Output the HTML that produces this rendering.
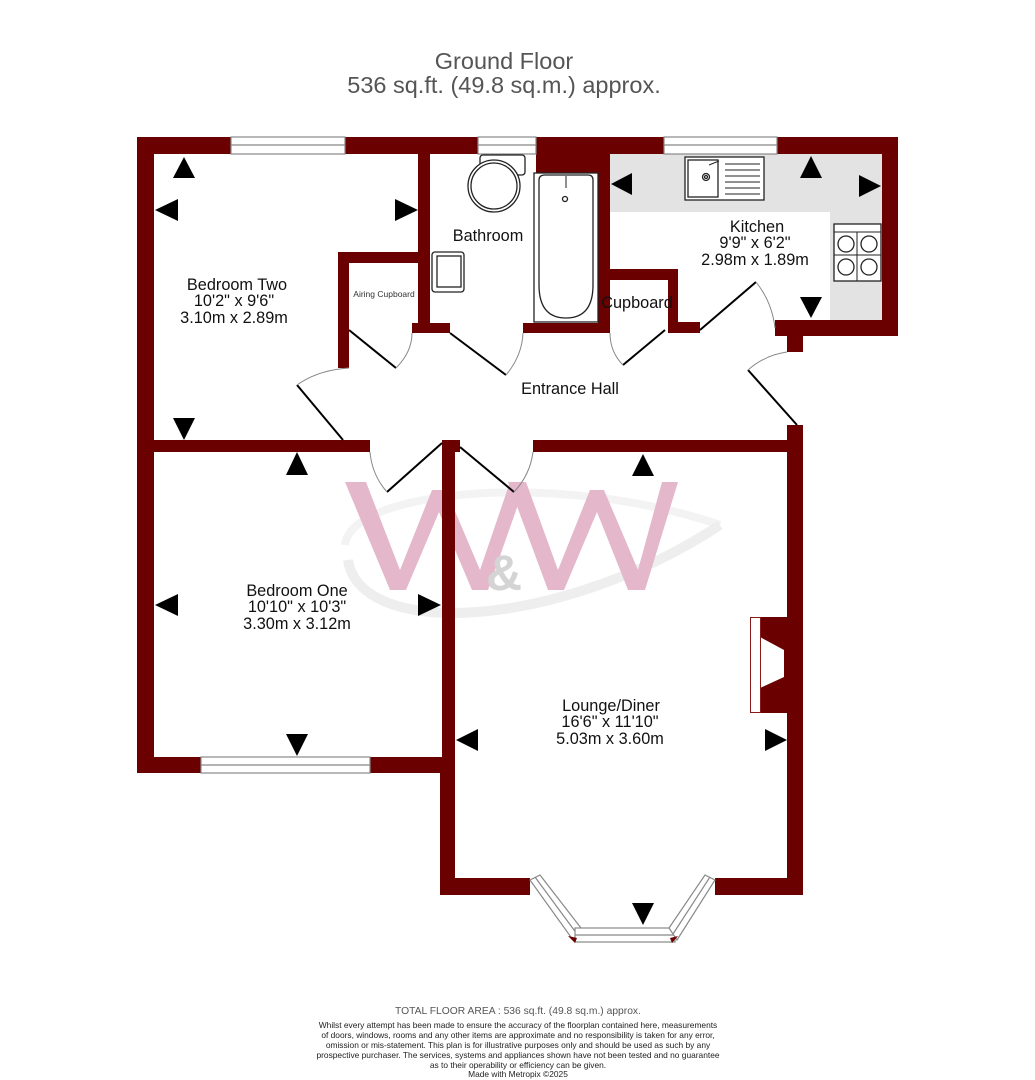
<!DOCTYPE html>
<html><head><meta charset="utf-8"><style>
html,body{margin:0;padding:0;background:#fff;}
svg{display:block;font-family:"Liberation Sans",Arial,sans-serif;}
</style></head><body>
<svg width="1035" height="1080" viewBox="0 0 1035 1080" xmlns="http://www.w3.org/2000/svg">
<rect width="1035" height="1080" fill="#fff"/>
<text x="504" y="69" font-size="23.5" fill="#555" text-anchor="middle">Ground Floor</text>
<text x="504" y="93" font-size="23.5" fill="#555" text-anchor="middle">536 sq.ft. (49.8 sq.m.) approx.</text>

<!-- kitchen counters -->
<rect x="610" y="154" width="272" height="58" fill="#e3e3e3"/>
<rect x="830" y="154" width="52" height="166" fill="#e3e3e3"/>

<!-- watermark -->
<path d="M345,545 C350,490 560,470 720,525" fill="none" stroke="#f3f3f3" stroke-width="8"/>
<path d="M348,560 C360,640 560,630 720,525" fill="none" stroke="#eeeeee" stroke-width="10"/>
<g fill="#e4b7ca">
<polygon points="345,482 366,482 400,570 432,490 446,490 480,570 510,482 526,482 488,590 472,590 439,512 406,590 390,590"/>
<polygon points="508,482 526,482 558,570 590,490 604,490 638,570 662,482 678,482 645,590 628,590 597,512 564,590 548,590"/>
</g>
<text x="486" y="590" font-size="50" fill="#d4d4d4" font-weight="bold">&amp;</text>

<g fill="#6b0000">
<rect x="137" y="137" width="761" height="17"/>
<rect x="137" y="137" width="17" height="636"/>
<rect x="418" y="154" width="12" height="179"/>
<rect x="412" y="323" width="38" height="10"/>
<rect x="338" y="252" width="81" height="11"/>
<rect x="338" y="252" width="11" height="116"/>
<rect x="523" y="323" width="87" height="10"/>
<rect x="536" y="154" width="72" height="20"/>
<rect x="598" y="154" width="12" height="179"/>
<rect x="610" y="269" width="68" height="11"/>
<rect x="668" y="269" width="10" height="64"/>
<rect x="668" y="322" width="32" height="11"/>
<rect x="882" y="137" width="16" height="199"/>
<rect x="775" y="320" width="123" height="16"/>
<rect x="787" y="320" width="16" height="32"/>
<rect x="137" y="440" width="233" height="12"/>
<rect x="442" y="440" width="18" height="12"/>
<rect x="533" y="440" width="270" height="12"/>
<rect x="787" y="425" width="16" height="470"/>
<rect x="442" y="440" width="13" height="455"/>
<rect x="137" y="757" width="318" height="16"/>
<rect x="440" y="757" width="15" height="138"/>
<rect x="440" y="878" width="90" height="17"/>
<rect x="715" y="878" width="88" height="17"/>
<polygon points="760,617 787,617 787,713 760,713 760,688 784,677 784,650 760,637"/>
</g>
<rect x="750.5" y="617.5" width="10" height="95" fill="#fff" stroke="#8a1a1a" stroke-width="1"/>

<g fill="#fff" stroke="#888" stroke-width="1.2">
<rect x="231" y="137" width="114" height="17"/><line x1="231" y1="145" x2="345" y2="145"/>
<rect x="478" y="137" width="58" height="17"/><line x1="478" y1="145" x2="536" y2="145"/>
<rect x="664" y="137" width="113" height="17"/><line x1="664" y1="145" x2="777" y2="145"/>
<rect x="201" y="757" width="169" height="16"/><line x1="201" y1="765" x2="370" y2="765"/>
</g>
<g fill="none" stroke="#888" stroke-width="1.2">
<polygon points="530,880 540,875 581,928 573,940" fill="#fff"/>
<line x1="535" y1="877" x2="577" y2="934"/>
<rect x="575" y="928" width="100" height="14" fill="#fff"/>
<line x1="575" y1="935" x2="675" y2="935"/>
<polygon points="715,880 705,875 669,928 677,940" fill="#fff"/>
<line x1="710" y1="877" x2="673" y2="934"/>
</g>
<polygon points="568,936 577,938 575,943" fill="#6b0000"/>
<polygon points="678,936 670,938 672,943" fill="#6b0000"/>

<g stroke="#000" stroke-width="2" fill="none">
<line x1="349" y1="330" x2="396" y2="368"/>
<line x1="450" y1="333" x2="506" y2="375"/>
<line x1="665" y1="330" x2="623" y2="365"/>
<line x1="700" y1="330" x2="756" y2="282"/>
<line x1="797" y1="425" x2="748" y2="370"/>
<line x1="343" y1="440" x2="297" y2="385"/>
<line x1="442" y1="443" x2="387" y2="492"/>
<line x1="460" y1="447" x2="514" y2="492"/>
</g>
<g stroke="#888" stroke-width="1" fill="none">
<path d="M396,368 Q412,352 412,333"/>
<path d="M506,375 Q522,356 523,333"/>
<path d="M623,365 Q610,352 610,333"/>
<path d="M756,282 Q772,302 775,328"/>
<path d="M748,370 Q765,355 787,352"/>
<path d="M297,385 Q318,370 349,368"/>
<path d="M387,492 Q372,475 370,452"/>
<path d="M514,492 Q530,475 533,452"/>
</g>

<g fill="#fff" stroke="#222" stroke-width="1.3">
<rect x="480" y="155" width="45" height="20" rx="3"/>
<ellipse cx="494" cy="186" rx="26" ry="26"/>
<ellipse cx="494" cy="186" rx="23" ry="23"/>
<rect x="534" y="173" width="64" height="149"/>
<path d="M539,180 Q539,175 545,175 L588,175 Q593,175 593,180 L593,285 Q593,318 566,318 Q539,318 539,285 Z"/>
<circle cx="565" cy="199" r="2.5"/>
<rect x="432" y="252" width="32" height="40" rx="3"/>
<rect x="437" y="256" width="24" height="31"/>
<rect x="685" y="157" width="79" height="43"/>
<rect x="688" y="160" width="30" height="37"/>
<circle cx="706" cy="177" r="3.5"/><circle cx="706" cy="177" r="1.5"/>
<rect x="834" y="224" width="47" height="57"/>
<circle cx="846" cy="244" r="8"/><circle cx="869" cy="244" r="8"/>
<circle cx="846" cy="267" r="8"/><circle cx="869" cy="267" r="8"/>
</g>
<g stroke="#222" stroke-width="1">
<line x1="725" y1="164" x2="760" y2="164"/><line x1="725" y1="170" x2="760" y2="170"/>
<line x1="725" y1="176" x2="760" y2="176"/><line x1="725" y1="182" x2="760" y2="182"/>
<line x1="725" y1="188" x2="760" y2="188"/><line x1="725" y1="194" x2="760" y2="194"/>
<line x1="834" y1="232" x2="881" y2="232"/>
<line x1="709" y1="165" x2="719" y2="161"/>
<line x1="566" y1="176" x2="566" y2="188"/>
<line x1="834" y1="255" x2="881" y2="255"/><line x1="857" y1="232" x2="857" y2="281"/>
</g>

<g fill="#000">
<polygon points="184,157 173,178 195,178"/>
<polygon points="155,210 178,199 178,221"/>
<polygon points="418,210 395,199 395,221"/>
<polygon points="184,440 173,418 195,418"/>
<polygon points="297,452 286,475 308,475"/>
<polygon points="155,605 178,594 178,616"/>
<polygon points="441,605 418,594 418,616"/>
<polygon points="297,756 286,734 308,734"/>
<polygon points="611,184 632,173 632,195"/>
<polygon points="811,156 800,178 822,178"/>
<polygon points="881,186 859,175 859,197"/>
<polygon points="811,318 800,297 822,297"/>
<polygon points="643,454 632,476 654,476"/>
<polygon points="456,740 478,729 478,751"/>
<polygon points="787,740 765,729 765,751"/>
<polygon points="643,925 632,903 654,903"/>
</g>

<g fill="#111" font-size="16.3" text-anchor="middle">
<text x="237" y="290">Bedroom Two</text>
<text x="234" y="306">10'2"  x 9'6"</text>
<text x="234" y="323">3.10m  x 2.89m</text>
<text x="488" y="241">Bathroom</text>
<text x="757" y="232">Kitchen</text>
<text x="755" y="248">9'9"  x 6'2"</text>
<text x="755" y="265">2.98m  x 1.89m</text>
<text x="637" y="308">Cupboard</text>
<text x="570" y="394">Entrance Hall</text>
<text x="297" y="596">Bedroom One</text>
<text x="297" y="612">10'10"  x 10'3"</text>
<text x="297" y="629">3.30m  x 3.12m</text>
<text x="611" y="711">Lounge/Diner</text>
<text x="610" y="727">16'6"  x 11'10"</text>
<text x="610" y="744">5.03m  x 3.60m</text>
</g>
<text x="384" y="297" font-size="8.5" fill="#333" text-anchor="middle">Airing Cupboard</text>

<text x="518" y="1014" font-size="10.3" fill="#555" text-anchor="middle">TOTAL FLOOR AREA : 536 sq.ft. (49.8 sq.m.) approx.</text>
<g font-size="8.4" fill="#222" text-anchor="middle">
<text x="518" y="1028">Whilst every attempt has been made to ensure the accuracy of the floorplan contained here, measurements</text>
<text x="518" y="1038">of doors, windows, rooms and any other items are approximate and no responsibility is taken for any error,</text>
<text x="518" y="1048">omission or mis-statement. This plan is for illustrative purposes only and should be used as such by any</text>
<text x="518" y="1058">prospective purchaser. The services, systems and appliances shown have not been tested and no guarantee</text>
<text x="518" y="1068">as to their operability or efficiency can be given.</text>
<text x="518" y="1077">Made with Metropix ©2025</text>
</g>
</svg>
</body></html>
